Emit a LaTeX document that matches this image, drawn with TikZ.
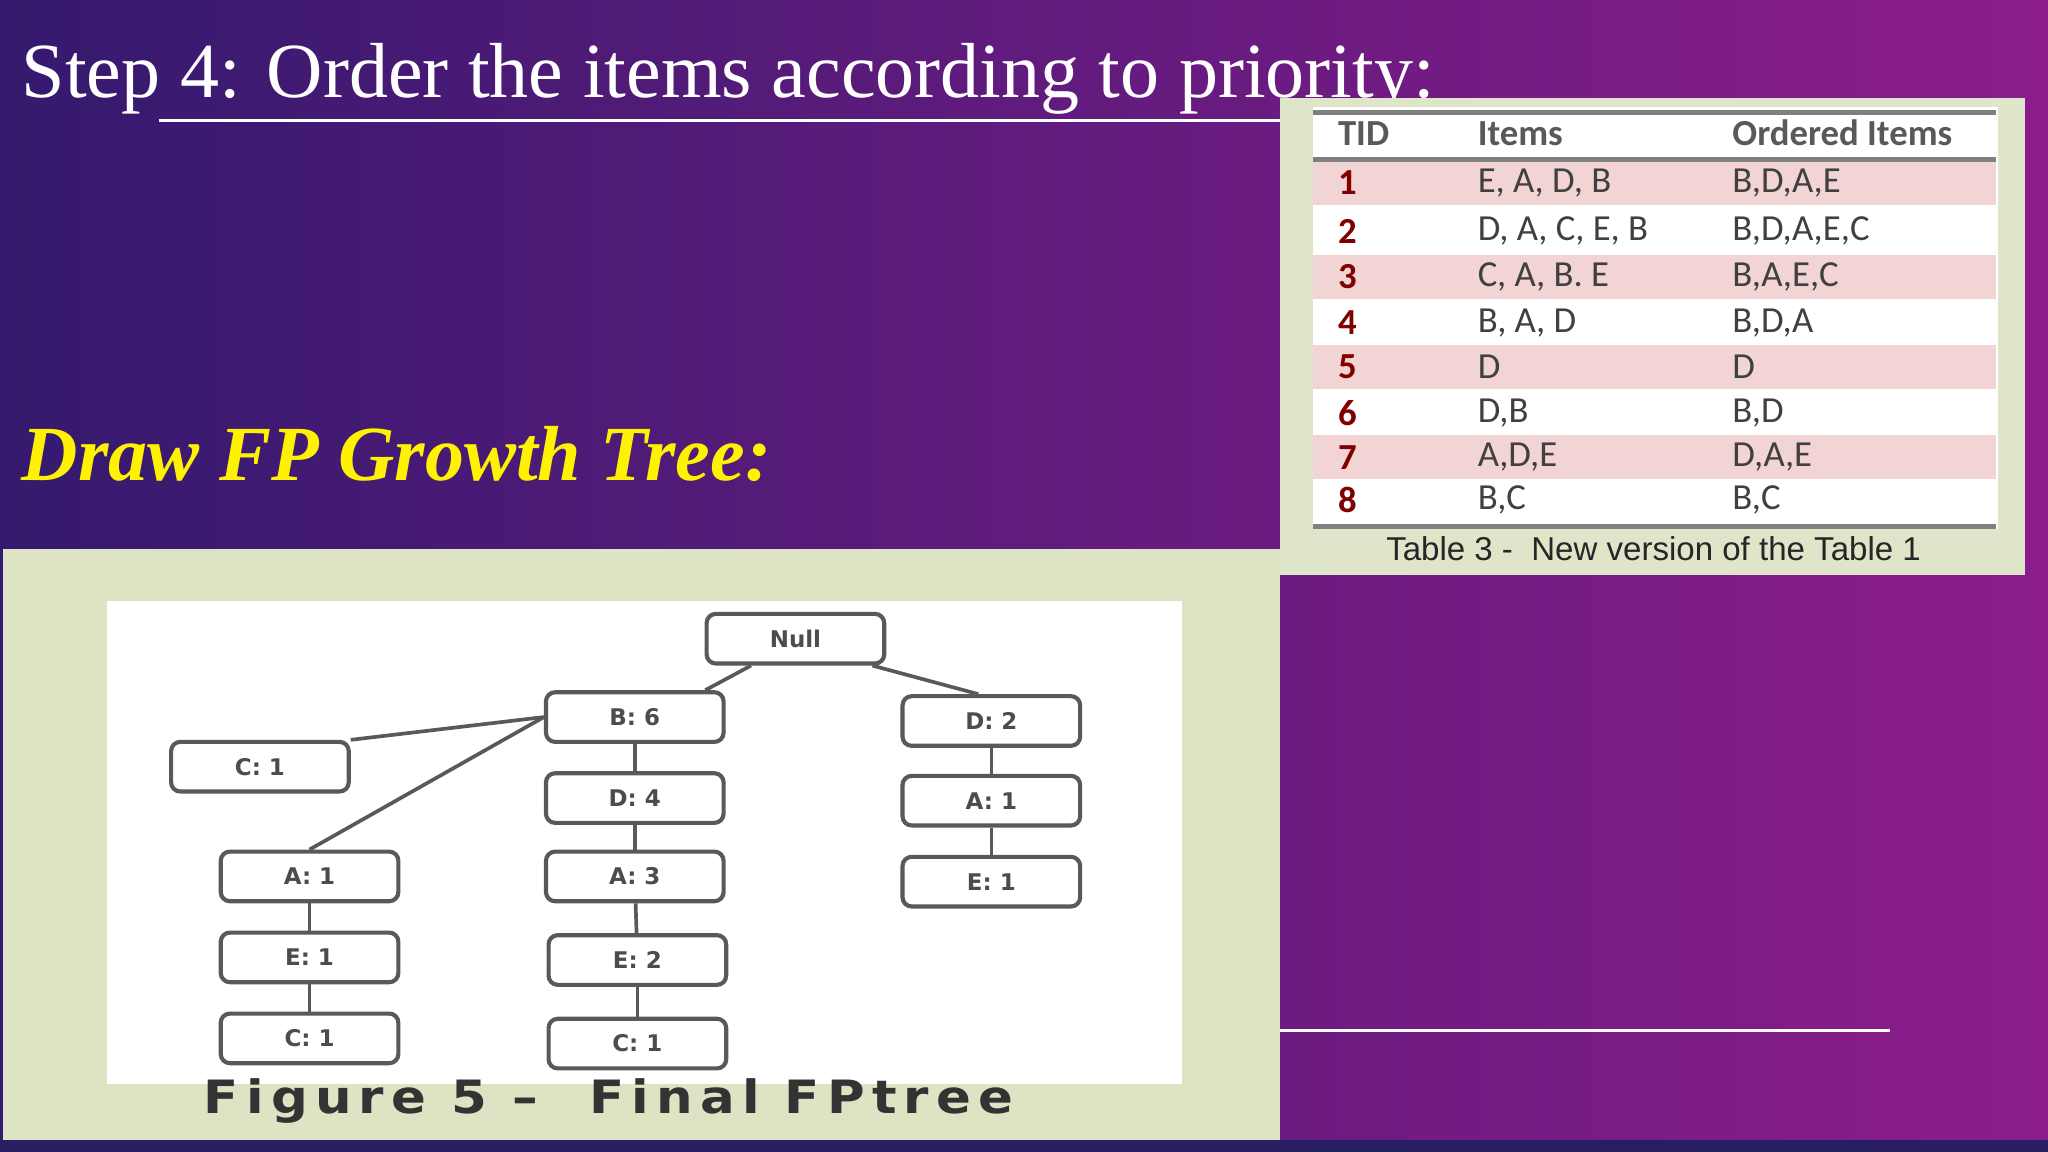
\documentclass[tikz,border=0pt]{standalone}
\usepackage{fontspec}
\setmainfont{Liberation Serif}
\newfontfamily\tabfont{Carlito}
\newfontfamily\capfont{Liberation Sans}
\newfontfamily\figfont{DejaVu Sans}
\newfontfamily\figcapfont[LetterSpace=14]{DejaVu Sans}
\definecolor{bgl}{RGB}{52,26,110}
\definecolor{bgr}{RGB}{140,28,140}
\definecolor{bgb}{RGB}{40,30,100}
\definecolor{panel}{RGB}{222,229,200}
\definecolor{panelb}{RGB}{221,228,196}
\definecolor{pinkrow}{RGB}{242,212,212}
\begin{document}
\begin{tikzpicture}[x=0.1mm,y=-0.1mm,
  fpnode/.style={draw=gray!70!black,line width=0.9pt,rounded corners=2pt,fill=white,minimum width=13.6mm,minimum height=3.8mm,font=\figfont\bfseries\fontsize{5}{6}\selectfont,text=gray!60!black},
  edge/.style={gray!70!black,line width=0.8pt},
  cell/.style={anchor=west,font=\tabfont\fontsize{8}{10}\selectfont,text=black!75},
  num/.style={anchor=west,font=\tabfont\bfseries\fontsize{8}{10}\selectfont,text=red!50!black}]
\useasboundingbox (0,0) rectangle (1568,882);
\shade[left color=bgl,right color=bgr] (0,0) rectangle (1568,882);
\fill[bgb] (0,873) rectangle (1568,882);
\node[anchor=base west,text=white,font=\fontsize{17}{20}\selectfont,inner sep=0] (title) at (16,75) {Step 4: Order the items according to priority:};
\draw[white,line width=0.6pt] (122,92) -- (980,92);
\node[anchor=base west,text=yellow,font=\bfseries\itshape\fontsize{17}{20}\selectfont,inner sep=0] (draw) at (16,368) {Draw FP Growth Tree:};
\draw[white,line width=0.6pt] (980,789) -- (1447,789);
\fill[panel] (980,75) rectangle (1550,440);
\fill[white] (1005,82) rectangle (1530,405);
\foreach \y in {140,212,281,350}{\fill[pinkrow] (1005,\y-17) rectangle (1528,\y+17);}
\draw[gray,line width=1pt] (1005,86) -- (1528,86);
\draw[gray,line width=1pt] (1005,122) -- (1528,122);
\draw[gray,line width=1pt] (1005,403) -- (1528,403);
\node[cell,font=\tabfont\bfseries\fontsize{8}{10}\selectfont,text=black!65] (h1) at (1012,102) {TID};
\node[cell,font=\tabfont\bfseries\fontsize{8}{10}\selectfont,text=black!65] (h2) at (1119,102) {Items};
\node[cell,font=\tabfont\bfseries\fontsize{8}{10}\selectfont,text=black!65] (h3) at (1314,102) {Ordered Items};
\foreach \y/\n/\a/\b in {140/1/{E, A, D, B}/{B,D,A,E},177/2/{D, A, C, E, B}/{B,D,A,E,C},212/3/{C, A, B. E}/{B,A,E,C},247/4/{B, A, D}/{B,D,A},281/5/D/D,316/6/{D,B}/{B,D},350/7/{A,D,E}/{D,A,E},383/8/{B,C}/{B,C}}{
  \node[num] at (1012,\y) {\n};
  \node[cell] at (1119,\y) {\a};
  \node[cell] at (1314,\y) {\b};}
\node[font=\capfont\fontsize{7.2}{9}\selectfont,text=black!85] (cap) at (1266,420) {Table 3 -\ \ New version of the Table 1};
\fill[panelb] (2,420) rectangle (980,873);
\fill[white] (82,460) rectangle (905,830);
\node[font=\figcapfont\bfseries\fontsize{10}{12}\selectfont,text=black!80,xscale=1.12] (figcap) at (466,843) {Figure 5 –\quad Final FPtree};
\node[fpnode] (null) at (609,489) {Null};
\node[fpnode] (b6) at (486,549) {B: 6};
\node[fpnode] (d2) at (759,552) {D: 2};
\node[fpnode] (c1a) at (199,587) {C: 1};
\node[fpnode] (d4) at (486,611) {D: 4};
\node[fpnode] (a1r) at (759,613) {A: 1};
\node[fpnode] (a1l) at (237,671) {A: 1};
\node[fpnode] (a3) at (486,671) {A: 3};
\node[fpnode] (e1r) at (759,675) {E: 1};
\node[fpnode] (e1l) at (237,733) {E: 1};
\node[fpnode] (e2) at (488,735) {E: 2};
\node[fpnode] (c1l) at (237,795) {C: 1};
\node[fpnode] (c1b) at (488,799) {C: 1};
\draw[edge] ([xshift=-3.4mm]null.south) -- ([xshift=5.4mm]b6.north);
\draw[edge] ([xshift=5.9mm]null.south) -- ([xshift=-1mm]d2.north);
\draw[edge] (b6.west) -- (c1a.north east);
\draw[edge] (b6.west) -- (a1l.north);
\draw[edge] (b6) -- (d4); \draw[edge] (d4) -- (a3); \draw[edge] (a3) -- (e2); \draw[edge] (e2) -- (c1b);
\draw[edge] (d2) -- (a1r); \draw[edge] (a1r) -- (e1r);
\draw[edge] (a1l) -- (e1l); \draw[edge] (e1l) -- (c1l);
\end{tikzpicture}
\end{document}
